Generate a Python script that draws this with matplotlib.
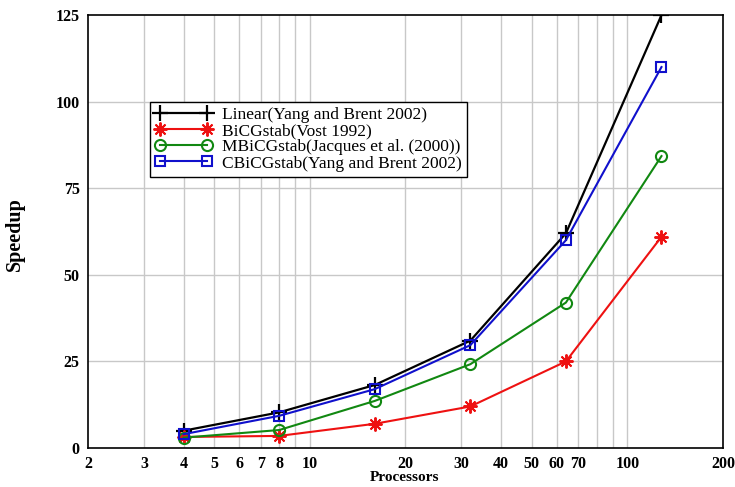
import matplotlib
matplotlib.use("Agg")
import matplotlib.pyplot as plt
from matplotlib.ticker import FixedLocator, FixedFormatter, NullFormatter

processors = [4, 8, 16, 32, 64, 128]
linear = [5, 10.3, 18.2, 31, 62, 125]
bicgstab = [3.2, 3.5, 7, 12, 25, 61]
mbicgstab = [3, 5.2, 13.6, 24.2, 42, 84.3]
cbicgstab = [4, 9.3, 17, 29.7, 60, 110]

labels = ["Linear(Yang and Brent 2002)", "BiCGstab(Vost 1992)",
          "MBiCGstab(Jacques et al. (2000))", "CBiCGstab(Yang and Brent 2002)"]
xtick_vals = [2, 3, 4, 5, 6, 7, 8, 10, 20, 30, 40, 50, 60, 70, 100, 200]
grid_x = [3, 4, 5, 6, 7, 8, 9, 10, 20, 30, 40, 50, 60, 70, 80, 90, 100]
yticks = [0, 25, 50, 75, 100, 125]

plt.rcParams['font.family'] = ['Liberation Serif', 'DejaVu Serif']

fig = plt.figure(figsize=(7.35, 4.87), dpi=100)
ax = fig.add_axes([0.1197, 0.080, 0.864, 0.889])

ax.set_xscale('log')
ax.set_xlim(2, 200)
ax.set_ylim(0, 125)

for gx in grid_x:
    ax.axvline(gx, color='#c8c8c8', lw=1.0, zorder=0)
for gy in yticks[1:-1]:
    ax.axhline(gy, color='#c8c8c8', lw=1.0, zorder=0)

ax.plot(processors, linear, color='black', lw=1.6, marker='+', ms=11, mew=1.6, label=labels[0], zorder=3)
ax.plot(processors, bicgstab, color='#ee1111', lw=1.5, marker=(8, 2, 0), ms=10, mew=1.4, label=labels[1], zorder=3)
ax.plot(processors, mbicgstab, color='#118811', lw=1.5, marker='o', ms=8, mfc='none', mew=1.5, label=labels[2], zorder=3)
ax.plot(processors, cbicgstab, color='#1010cc', lw=1.5, marker='s', ms=7, mfc='none', mew=1.5, label=labels[3], zorder=3)

ax.xaxis.set_major_locator(FixedLocator(xtick_vals))
ax.xaxis.set_major_formatter(FixedFormatter([str(v) for v in xtick_vals]))
ax.xaxis.set_minor_locator(FixedLocator([]))
ax.xaxis.set_minor_formatter(NullFormatter())
ax.set_yticks(yticks)
ax.set_yticklabels([str(v) for v in yticks])
ax.tick_params(axis='both', length=0, labelsize=11.5, pad=6)
for lab in ax.get_xticklabels() + ax.get_yticklabels():
    lab.set_fontweight('bold')

for s in ax.spines.values():
    s.set_color('black')
    s.set_linewidth(1.2)

ax.set_xlabel('Processors', fontsize=11, fontweight='bold', va='top')
ax.xaxis.set_label_coords(0.499, -0.053)
ax.set_ylabel('Speedup', fontsize=14.5, fontweight='bold')
ax.yaxis.set_label_coords(-0.10, 0.495)

leg = ax.legend(loc='upper left', bbox_to_anchor=(0.097, 0.80), fontsize=12.5,
                frameon=True, fancybox=False, edgecolor='black', framealpha=1,
                borderpad=0.3, labelspacing=0.0, handlelength=3.3, handletextpad=0.6,
                borderaxespad=0, markerfirst=True, numpoints=2)
leg.get_frame().set_linewidth(1.0)

fig.savefig('out.png', dpi=100)
